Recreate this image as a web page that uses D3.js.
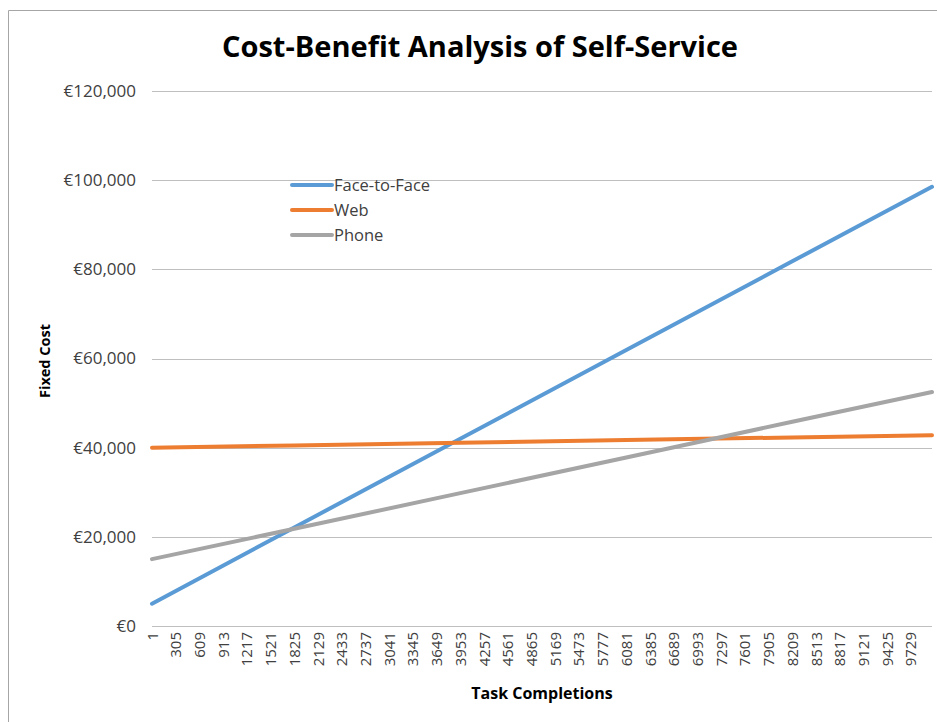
<!DOCTYPE html>
<html>
<head>
<meta charset="utf-8">
<script src="https://cdn.jsdelivr.net/npm/d3@7"></script>
<style>
  body { margin: 0; background: #fff; }
  svg { display: block; font-family: "Open Sans", "Noto Sans", sans-serif; }
</style>
</head>
<body>
<script>
// values at a few task counts (lines are straight)
const taskPoints = [1, 1825, 3953, 6081, 8209, 10000];
const faceToFace = [5000, 22100, 42000, 61900, 81800, 98500];
const web = [40000, 40500, 41100, 41700, 42300, 42800];
const phone = [15000, 21800, 29800, 37800, 45800, 52500];

const seriesNames = ["Face-to-Face", "Web", "Phone"];
const seriesColors = ["#5b9bd5", "#ed7d31", "#a5a5a5"];

const xTickLabels = ["1", "305", "609", "913", "1217", "1521", "1825", "2129", "2433",
  "2737", "3041", "3345", "3649", "3953", "4257", "4561", "4865", "5169", "5473",
  "5777", "6081", "6385", "6689", "6993", "7297", "7601", "7905", "8209", "8513",
  "8817", "9121", "9425", "9729"];
const yTicks = [0, 20000, 40000, 60000, 80000, 100000, 120000];

const width = 937, height = 722;
const margin = { left: 152, right: 5, top: 91, bottom: 96 };

const svg = d3.select("body").append("svg")
  .attr("width", width)
  .attr("height", height);

// chart frame
svg.append("path")
  .attr("d", `M8.5,${height} V10.5 H${width}`)
  .attr("fill", "none")
  .attr("stroke", "#a6a6a6")
  .attr("stroke-width", 1);

const x = d3.scaleLinear()
  .domain([1, 10000])
  .range([margin.left, width - margin.right]);

const y = d3.scaleLinear()
  .domain([0, 120000])
  .range([height - margin.bottom, margin.top]);

// gridlines
svg.append("g")
  .selectAll("line")
  .data(yTicks)
  .enter()
  .append("line")
  .attr("x1", margin.left)
  .attr("x2", width - margin.right)
  .attr("y1", d => Math.round(y(d)) + 0.5)
  .attr("y2", d => Math.round(y(d)) + 0.5)
  .attr("stroke", "#bfbfbf")
  .attr("stroke-width", 1);

// y axis labels
const fmt = d3.format(",");
svg.append("g")
  .selectAll("text")
  .data(yTicks)
  .enter()
  .append("text")
  .attr("x", 136)
  .attr("y", d => y(d))
  .attr("dy", "0.35em")
  .attr("text-anchor", "end")
  .attr("font-size", 17)
  .attr("fill", "#404040")
  .text(d => "€" + fmt(d));

// x axis labels, rotated
svg.append("g")
  .selectAll("text")
  .data(xTickLabels)
  .enter()
  .append("text")
  .attr("transform", d => `translate(${x(+d) + 5.5},${height - margin.bottom + 6}) rotate(-90)`)
  .attr("text-anchor", "end")
  .attr("font-size", 15)
  .attr("fill", "#404040")
  .text(d => d);

// lines
const allSeries = [faceToFace, web, phone];
const line = d3.line()
  .x((d, i) => x(taskPoints[i]))
  .y(d => y(d));

svg.append("g")
  .selectAll("path")
  .data(allSeries)
  .enter()
  .append("path")
  .attr("d", d => line(d))
  .attr("fill", "none")
  .attr("stroke", (d, i) => seriesColors[i])
  .attr("stroke-width", 4)
  .attr("stroke-linecap", "round");

// legend
const legend = svg.append("g")
  .selectAll("g")
  .data(seriesNames)
  .enter()
  .append("g")
  .attr("transform", (d, i) => `translate(292,${185 + i * 25})`);

legend.append("line")
  .attr("x1", 0)
  .attr("x2", 40)
  .attr("stroke", (d, i) => seriesColors[i])
  .attr("stroke-width", 4)
  .attr("stroke-linecap", "round");

legend.append("text")
  .attr("x", 42)
  .attr("dy", "0.35em")
  .attr("font-size", 16.5)
  .attr("fill", "#404040")
  .text(d => d);

// title and axis titles
svg.append("text")
  .attr("x", 480)
  .attr("y", 57)
  .attr("text-anchor", "middle")
  .attr("font-size", 28)
  .attr("font-weight", "bold")
  .attr("textLength", 516)
  .attr("lengthAdjust", "spacingAndGlyphs")
  .attr("fill", "#000")
  .text("Cost-Benefit Analysis of Self-Service");

svg.append("text")
  .attr("x", 542)
  .attr("y", 699)
  .attr("text-anchor", "middle")
  .attr("font-size", 16)
  .attr("font-weight", "bold")
  .attr("fill", "#000")
  .text("Task Completions");

svg.append("text")
  .attr("transform", "translate(50,361) rotate(-90)")
  .attr("text-anchor", "middle")
  .attr("font-size", 14.5)
  .attr("font-weight", "bold")
  .attr("fill", "#000")
  .text("Fixed Cost");
</script>
</body>
</html>
